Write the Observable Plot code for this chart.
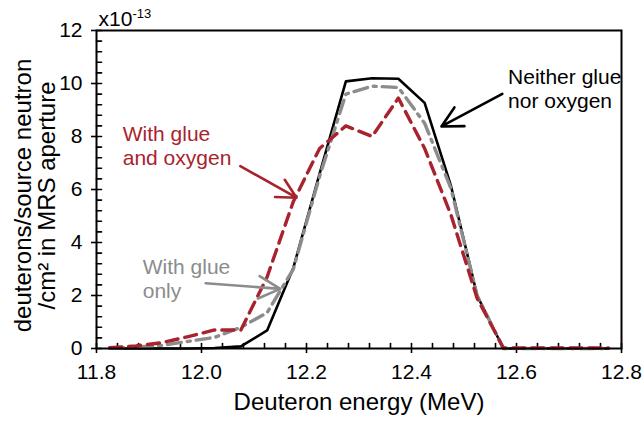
<!DOCTYPE html>
<html><head><meta charset="utf-8">
<script src="https://cdn.jsdelivr.net/npm/d3@7"></script>
<script src="https://cdn.jsdelivr.net/npm/@observablehq/plot@0.6"></script>
<style>body{margin:0;background:#fff}#chart svg{display:block}</style>
</head><body><div id="chart"></div>
<script>
// Deuteron energy bin centres (MeV)
const energy = [11.825, 11.875, 11.925, 11.975, 12.025, 12.075, 12.125, 12.175, 12.225, 12.275,
                12.325, 12.375, 12.425, 12.475, 12.525, 12.575, 12.625, 12.675, 12.725, 12.775];
// deuterons/source neutron/cm^2 (x1e-13)
const neither    = [0, 0, 0, 0, 0.02, 0.08, 0.68, 3.05, 6.6, 10.08, 10.2, 10.18, 9.27, 6.15, 2.0, 0, 0, 0, 0, 0];
const glueOnly   = [0.02, 0.05, 0.12, 0.27, 0.42, 0.8, 1.35, 3.0, 6.5, 9.6, 9.9, 9.85, 8.5, 6.05, 2.0, 0, 0, 0, 0, 0];
const glueOxygen = [0.03, 0.1, 0.22, 0.45, 0.7, 0.7, 2.7, 5.55, 7.55, 8.4, 8.0, 9.45, 7.55, 5.05, 1.9, 0.02, 0.02, 0.02, 0.02, 0.02];

const xTickValues = [11.8, 12.0, 12.2, 12.4, 12.6, 12.8];
const xTickLabels = ["11.8", "12.0", "12.2", "12.4", "12.6", "12.8"];
const yTickValues = [0, 2, 4, 6, 8, 10, 12];
const yTickLabels = ["0", "2", "4", "6", "8", "10", "12"];

const annoText = ["Neither glue\nnor oxygen", "With glue\nand oxygen", "With glue\nonly"];
const annoX = [12.584, 11.85, 11.888];
const annoY = [9.81, 7.66, 2.64];
const arrowX1 = [12.573, 12.074, 12.008];
const arrowY1 = [9.61, 6.88, 2.46];
const arrowX2 = [12.457, 12.181, 12.150];
const arrowY2 = [8.38, 5.69, 2.25];

const BLACK = "#000000", GRAY = "#8c8c8c", RED = "#a8232e";
const annoColor = [BLACK, RED, GRAY];

const rows = (vals) => energy.map((e, i) => ({e, v: vals[i]}));
const xMinorTicks = d3.range(0, 26).map(i => +(11.8 + i * 0.04).toFixed(2));
const yMinorTicks = d3.range(0, 31).map(i => +(i * 0.4).toFixed(1));
const annos = annoText.map((t, i) => ({t, x: annoX[i], y: annoY[i], c: annoColor[i]}));
const arrows = arrowX1.map((x, i) => ({x1: x, y1: arrowY1[i], x2: arrowX2[i], y2: arrowY2[i], c: annoColor[i]}));

const tickShape = {draw(context, l) { context.moveTo(0, 0); context.lineTo(0, -l); }};

const chart = Plot.plot({
  width: 644, height: 421,
  marginLeft: 96, marginRight: 23, marginTop: 30, marginBottom: 73,
  style: {fontFamily: "'Liberation Sans', Arial, sans-serif", fontSize: "21px", background: "#fff", color: "#000"},
  x: {domain: [11.8, 12.8]},
  y: {domain: [0, 12]},
  marks: [
    Plot.axisX({ticks: xTickValues, tickFormat: d => xTickLabels[xTickValues.indexOf(d)], tickSize: 5, tickPadding: 11, label: null, strokeWidth: 1.6}),
    Plot.axisY({ticks: yTickValues, tickFormat: d => yTickLabels[yTickValues.indexOf(d)], tickSize: 5, tickPadding: 9, label: null, strokeWidth: 1.6}),
    Plot.vector(xMinorTicks, {x: d => d, y: 0, length: 5, rotate: 0, anchor: "start", shape: tickShape, stroke: BLACK, strokeWidth: 1.6}),
    Plot.vector(yMinorTicks, {x: 11.8, y: d => d, length: 5, rotate: 90, anchor: "start", shape: tickShape, stroke: BLACK, strokeWidth: 1.6}),
    Plot.line(rows(neither), {x: "e", y: "v", stroke: BLACK, strokeWidth: 2.6}),
    Plot.line(rows(glueOnly), {x: "e", y: "v", stroke: GRAY, strokeWidth: 3.4, strokeDasharray: "14,6,3,6"}),
    Plot.line(rows(glueOxygen), {x: "e", y: "v", stroke: RED, strokeWidth: 3.4, strokeDasharray: "12,7"}),
    Plot.frame({stroke: BLACK, strokeWidth: 2}),
    Plot.arrow(arrows, {x1: "x1", y1: "y1", x2: "x2", y2: "y2", stroke: "c", strokeWidth: 2.6, headLength: 14, headAngle: 55}),
    Plot.text(annos, {x: "x", y: "y", text: "t", fill: "c", textAnchor: "start", lineAnchor: "middle", lineHeight: 1.15, fontSize: 21}),
    Plot.text(["Deuteron energy (MeV)"], {frameAnchor: "bottom", dy: 54, textAnchor: "middle", lineAnchor: "middle", fontSize: 24, fill: BLACK}),
    Plot.text(["deuterons/source neutron"], {frameAnchor: "left", dx: -73, dy: 6, rotate: -90, textAnchor: "middle", lineAnchor: "middle", fontSize: 24, fill: BLACK}),
    Plot.text(["/cm\u00b2 in MRS aperture"], {frameAnchor: "left", dx: -49, dy: 6, rotate: -90, textAnchor: "middle", lineAnchor: "middle", fontSize: 24, fill: BLACK}),
    Plot.text(["x10"], {frameAnchor: "top-left", dx: 2, dy: -5, textAnchor: "start", lineAnchor: "bottom", fontSize: 21, fill: BLACK}),
    Plot.text(["-13"], {frameAnchor: "top-left", dx: 36, dy: -13, textAnchor: "start", lineAnchor: "bottom", fontSize: 13, fill: BLACK})
  ]
});
document.getElementById("chart").appendChild(chart);
</script>
</body></html>
